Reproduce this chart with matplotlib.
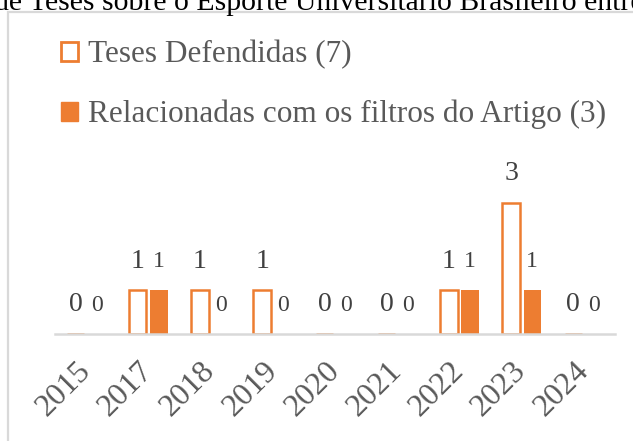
import matplotlib
matplotlib.use("Agg")
import matplotlib.pyplot as plt
import matplotlib.transforms as mtransforms
from matplotlib.patches import Patch, Rectangle

years = ["2015", "2017", "2018", "2019", "2020", "2021", "2022", "2023", "2024"]
teses = [0, 1, 1, 1, 0, 0, 1, 3, 0]
relacionadas = [0, 1, 0, 0, 0, 0, 1, 1, 0]
lab_teses = "Teses Defendidas (7)"
lab_rel = "Relacionadas com os filtros do Artigo (3)"
title = "de Teses sobre o Esporte Universitário Brasileiro entre 2015 e 2024"

ORANGE = "#ED7D31"; GRID = "#d9d9d9"; TXT = "#595959"; LAB = "#404040"
plt.rcParams["font.family"] = ["Liberation Serif", "DejaVu Serif"]

W, H = 633, 441
fig = plt.figure(figsize=(W/100, H/100), dpi=100)
px = lambda x, y: (x/W, 1 - y/H)

# chart frame (only left/top visible in the crop)
fig.patches.append(Rectangle(px(8, 520), 700/W, 508/H, transform=fig.transFigure,
                             fill=False, ec=GRID, lw=1.6))
fig.text(*px(-6.5, 10), title, fontsize=21.4, color="black", ha="left", va="baseline")

ax = fig.add_axes([55/W, (H-334)/H, 560/W, 184/H])
x = list(range(len(years)))
w = 0.28
b1 = ax.bar([i - 0.17 for i in x], teses, w, facecolor="white", edgecolor=ORANGE, lw=1.8)
b2 = ax.bar([i + 0.17 for i in x], relacionadas, w, color=ORANGE, lw=0)
for r, v in zip(b1, teses):
    ax.annotate(str(v), (r.get_x() + r.get_width()/2, v), xytext=(0, 21), textcoords="offset points",
                ha="center", va="center", fontsize=20, color=LAB)
for r, v in zip(b2, relacionadas):
    ax.annotate(str(v), (r.get_x() + r.get_width()/2, v), xytext=(0, 20.5), textcoords="offset points",
                ha="center", va="center", fontsize=17, color=LAB)

ax.set_xlim(-0.5, len(years) - 0.5)
ax.set_ylim(0, 184/43.8)
ax.set_yticks([])
ax.set_xticks(x)
ax.set_xticklabels(years, rotation=45, ha="right", rotation_mode="anchor", fontsize=23, color=TXT)
ax.tick_params(axis="x", length=0, pad=16)
shift = mtransforms.ScaledTranslation(-10/100, 0, fig.dpi_scale_trans)
for t in ax.get_xticklabels():
    t.set_transform(t.get_transform() + shift)
for s in ["left", "right", "top"]:
    ax.spines[s].set_visible(False)
ax.spines["bottom"].set_color(GRID); ax.spines["bottom"].set_linewidth(1.8)
ax.patch.set_alpha(0)

handles = [Patch(facecolor="white", edgecolor=ORANGE, lw=2, label=lab_teses),
           Patch(facecolor=ORANGE, edgecolor=ORANGE, label=lab_rel)]
fig.legend(handles=handles, loc="upper left", bbox_to_anchor=px(61, 40), frameon=False,
           fontsize=22.5, handlelength=0.55, handleheight=0.55, handletextpad=0.3,
           labelspacing=0.98, labelcolor=TXT, borderaxespad=0, borderpad=0)

fig.savefig("out.png", dpi=100)
